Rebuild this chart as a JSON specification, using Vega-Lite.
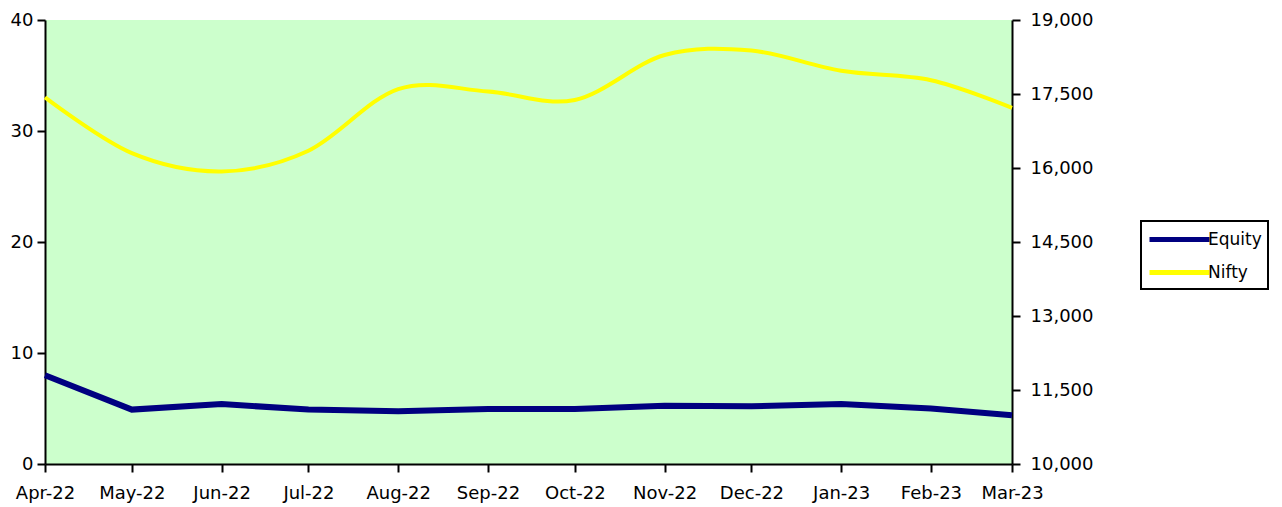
{
  "$schema": "https://vega.github.io/schema/vega-lite/v6.json",
  "width": 967,
  "height": 444,
  "autosize": {"type": "none"},
  "padding": {"left": 45, "top": 20, "right": 270, "bottom": 43},
  "background": "white",
  "config": {
    "view": {"fill": "#CCFFCC", "stroke": null},
    "font": "DejaVu Sans",
    "axis": {
      "labelFont": "DejaVu Sans",
      "labelFontSize": 18,
      "labelColor": "black",
      "domainColor": "black",
      "domainWidth": 2,
      "tickColor": "black",
      "tickWidth": 2,
      "tickSize": 8,
      "grid": false,
      "title": null
    },
    "legend": {
      "orient": "none",
      "legendX": 1096,
      "legendY": 201,
      "strokeColor": "black",
      "strokeWidth": 2,
      "padding": 6,
      "symbolType": "M-1,0H5",
      "symbolSize": 400,
      "symbolStrokeWidth": 5,
      "labelFont": "DejaVu Sans",
      "labelFontSize": 17,
      "labelColor": "black",
      "labelOffset": 36,
      "rowPadding": 10,
      "fillColor": "white"
    }
  },
  "data": {
    "values": [
      {"month": "2022-04-01", "Equity": 8.0, "Nifty": 17430},
      {"month": "2022-05-01", "Equity": 4.9, "Nifty": 16300},
      {"month": "2022-06-01", "Equity": 5.4, "Nifty": 15930},
      {"month": "2022-07-01", "Equity": 4.9, "Nifty": 16350},
      {"month": "2022-08-01", "Equity": 4.75, "Nifty": 17600},
      {"month": "2022-09-01", "Equity": 4.95, "Nifty": 17550},
      {"month": "2022-10-01", "Equity": 4.95, "Nifty": 17380},
      {"month": "2022-11-01", "Equity": 5.25, "Nifty": 18290},
      {"month": "2022-12-01", "Equity": 5.2, "Nifty": 18380},
      {"month": "2023-01-01", "Equity": 5.4, "Nifty": 17970},
      {"month": "2023-02-01", "Equity": 5.0, "Nifty": 17780},
      {"month": "2023-03-01", "Equity": 4.4, "Nifty": 17220}
    ]
  },
  "encoding": {
    "x": {
      "field": "month",
      "type": "temporal",
      "scale": {"type": "utc", "nice": false},
      "axis": {
        "labelExpr": "utcFormat(datum.value, '%b-%y')",
        "tickCount": {"interval": "month", "step": 1},
        "labelPadding": 12,
        "labelOverlap": false,
        "labelFlush": false
      }
    }
  },
  "layer": [
    {
      "mark": {"type": "line", "strokeWidth": 6, "strokeJoin": "miter"},
      "encoding": {
        "y": {
          "field": "Equity",
          "type": "quantitative",
          "scale": {"domain": [0, 40], "nice": false, "zero": false},
          "axis": {"orient": "left", "values": [0, 10, 20, 30, 40], "labelPadding": 4}
        },
        "color": {
          "datum": "Equity",
          "type": "nominal",
          "scale": {"domain": ["Equity", "Nifty"], "range": ["#000080", "#FFFF00"]},
          "legend": {"title": null}
        }
      }
    },
    {
      "mark": {"type": "line", "strokeWidth": 4, "interpolate": "cardinal"},
      "encoding": {
        "y": {
          "field": "Nifty",
          "type": "quantitative",
          "scale": {"domain": [10000, 19000], "nice": false, "zero": false},
          "axis": {
            "orient": "right",
            "values": [10000, 11500, 13000, 14500, 16000, 17500, 19000],
            "labelExpr": "format(datum.value, ',')",
            "labelPadding": 10
          }
        },
        "color": {
          "datum": "Nifty",
          "type": "nominal",
          "legend": {"title": null}
        }
      }
    }
  ],
  "resolve": {"scale": {"y": "independent"}}
}
